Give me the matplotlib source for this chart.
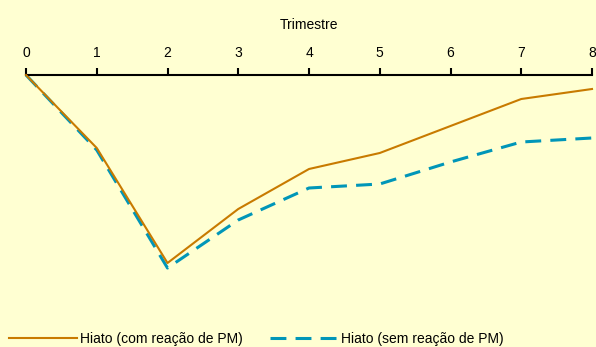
import numpy as np
import matplotlib.pyplot as plt

plt.rcParams['font.family'] = ['Liberation Sans', 'DejaVu Sans']

# quarters after the shock
trimestres = [0, 1, 2, 3, 4, 5, 6, 7, 8]
# output gap response, with and without monetary policy reaction
hiato_com_pm = [0.0, -0.73, -1.88, -1.34, -0.94, -0.78, -0.51, -0.24, -0.14]
hiato_sem_pm = [0.0, -0.75, -1.93, -1.45, -1.13, -1.09, -0.87, -0.67, -0.63]

bg = '#FFFFD2'
fig = plt.figure(figsize=(5.96, 3.47), dpi=100, facecolor=bg)
ax = fig.add_axes([26 / 596, 1 - 300 / 347, 566 / 596, 225 / 347])
ax.set_facecolor(bg)

ax.plot(trimestres, hiato_com_pm, color='#C87A00', lw=1.5,
        label='Hiato (com reação de PM)', clip_on=False, zorder=3)
ax.plot(trimestres, hiato_sem_pm, color='#0096B8', lw=2.2, dashes=(5.2, 3.0),
        label='Hiato (sem reação de PM)', clip_on=False, zorder=2)

ax.set_xlim(0, 8)
ax.set_ylim(-2.25, 0)

# x axis sits on top, no y axis
ax.xaxis.tick_top()
ax.xaxis.set_label_position('top')
ax.set_xticks(trimestres)
ax.set_xlabel('Trimestre', fontsize=10, labelpad=12)
ax.tick_params(axis='x', direction='out', length=5, width=1.5,
               labelsize=10, pad=6)
ax.set_yticks([])
for side in ['left', 'right', 'bottom']:
    ax.spines[side].set_visible(False)
ax.spines['top'].set_linewidth(1.5)

fig.legend(loc='lower left', bbox_to_anchor=(-1 / 596, -9 / 347), ncol=2,
           frameon=False, fontsize=10, handlelength=4.9, handletextpad=0.2,
           columnspacing=2.0, borderaxespad=0.3)

fig.savefig('out.png', dpi=100, facecolor=bg)
